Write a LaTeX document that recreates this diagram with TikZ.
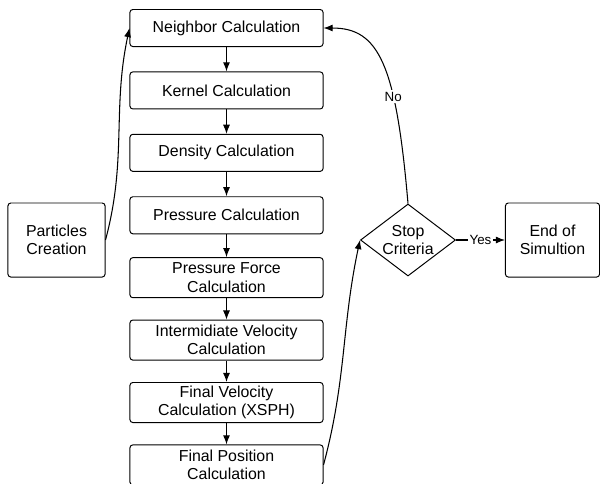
\documentclass[tikz,border=0pt]{standalone}
\usepackage{fontspec}
\setmainfont{Liberation Sans}
\usetikzlibrary{shapes.geometric,positioning,arrows.meta}

\tikzset{
  stepbox/.style={rectangle, draw, rounded corners=2pt, minimum width=4.825cm, minimum height=0.925cm, align=center, inner sep=1pt},
  twoline/.style={stepbox, minimum height=1cm},
  sidebox/.style={rectangle, draw, rounded corners=2pt, minimum width=2.425cm, minimum height=1.85cm, align=center},
  decision/.style={diamond, draw, minimum width=2.375cm, minimum height=1.8cm, align=center, inner sep=-2.5pt},
  flow/.style={-{Latex[length=6.5pt,width=5pt]}, line width=0.75pt},
  edgelabel/.style={fill=white, inner sep=1pt, font=\fontsize{9.5}{11}\selectfont}
}

\begin{document}
\begin{tikzpicture}[x=0.025cm, y=-0.025cm, node distance=1.56cm, line width=0.7pt, font=\fontsize{11.3}{13}\selectfont]
    \useasboundingbox (0,0) rectangle (600,483);

    \node (neighbor) [stepbox] at (226.5,28) {Neighbor Calculation};
    \node (kernel) [stepbox, below of=neighbor] {Kernel Calculation};
    \node (density) [stepbox, below of=kernel] {Density Calculation};
    \node (pressure) [stepbox, below of=density] {Pressure Calculation};
    \node (force) [twoline, below of=pressure] {Pressure Force\\Calculation};
    \node (interm) [twoline, below of=force] {Intermidiate Velocity\\Calculation};
    \node (velocity) [twoline, below of=interm] {Final Velocity\\Calculation (XSPH)};
    \node (position) [twoline, below of=velocity] {Final Position\\Calculation};

    \node (creation) [sidebox] at (56.5,240) {Particles\\Creation};
    \node (stop) [decision] at (408,240) {Stop\\Criteria};
    \node (finish) [sidebox, minimum width=2.35cm] at (552.5,240) {End of\\Simultion};

    \draw[flow] (neighbor) -- (kernel);
    \draw[flow] (kernel) -- (density);
    \draw[flow] (density) -- (pressure);
    \draw[flow] (pressure) -- (force);
    \draw[flow] (force) -- (interm);
    \draw[flow] (interm) -- (velocity);
    \draw[flow] (velocity) -- (position);

    \draw[flow] (creation.east) to[out=75, in=258] (neighbor.west);
    \draw[flow] (position.east) to[out=75, in=258] (stop.west);
    \draw[flow] (stop.north) .. controls +(-12,-140) and +(55,0) .. (neighbor.east)
        node[edgelabel, pos=0.33] {No};
    \draw[flow] (stop.east) -- node[edgelabel] {Yes} (finish.west);
\end{tikzpicture}
\end{document}
